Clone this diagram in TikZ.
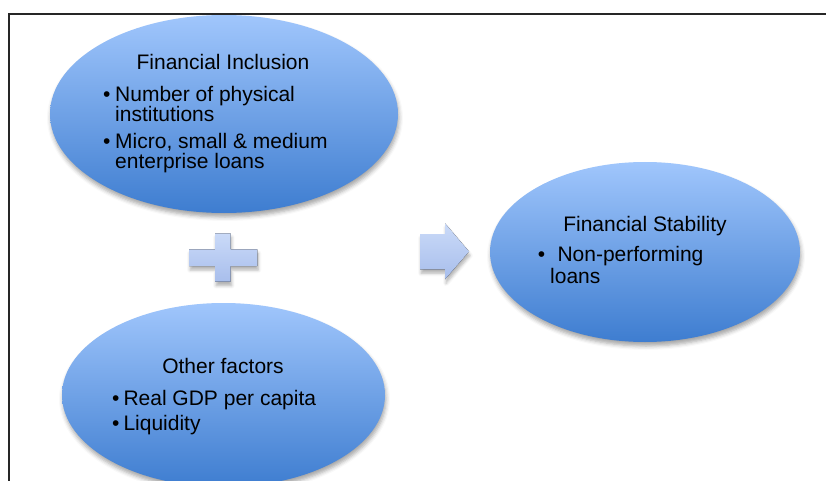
\documentclass[tikz,border=0pt]{standalone}
\usepackage{fontspec}
\setmainfont{Liberation Sans}
\usetikzlibrary{shapes.geometric,shadows.blur}
\definecolor{blobtop}{RGB}{160,198,252}
\definecolor{blobbot}{RGB}{62,125,208}
\definecolor{signtop}{RGB}{202,218,248}
\definecolor{signbot}{RGB}{168,190,236}
\begin{document}
\begin{tikzpicture}[x=1pt,y=-1pt,
  blob/.style={ellipse, inner sep=0pt, draw=none,
    top color=blobtop, bottom color=blobbot,
    blur shadow={shadow xshift=1pt, shadow yshift=-4pt,
      shadow blur radius=4pt, shadow opacity=35}},
  sign/.style={top color=signtop, bottom color=signbot, draw=none,
    blur shadow={shadow xshift=1pt, shadow yshift=-4pt,
      shadow blur radius=3pt, shadow opacity=30}},
  txt/.style={inner sep=0pt, text=black, font=\fontsize{21}{20}\selectfont},
  head/.style={txt, anchor=base},
  item/.style={txt, anchor=base west},
  dot/.style={txt, anchor=base},
  frameline/.style={line width=1.5pt, draw=black!85}
]
\useasboundingbox (0,0) rectangle (826,481);
\clip (0,0) rectangle (826,481);

% the three ellipses
\node[blob, minimum width=348pt, minimum height=198pt] (incl) at (224,114) {};
\node[blob, minimum width=323pt, minimum height=184pt] (other) at (223.5,395) {};
\node[blob, minimum width=310pt, minimum height=180pt] (stab) at (645,252) {};

% frame along the top and left edges
\draw[frameline] (9,481) -- (9,14) -- (826,14);

% plus sign
\fill[sign] (189,249.3) -- (215,249.3) -- (215,233.3) -- (230.7,233.3)
  -- (230.7,249.3) -- (257.3,249.3) -- (257.3,266) -- (230.7,266)
  -- (230.7,281.7) -- (215,281.7) -- (215,266) -- (189,266) -- cycle;

% block arrow
\fill[sign] (420,234) -- (445,234) -- (445,223.3) -- (469,251.5)
  -- (445,279.3) -- (445,269.3) -- (420,269.3) -- cycle;

% Financial Inclusion
\node[head] (inclT) at (223,70) {Financial Inclusion};
\node[dot] (inclB1) at (106.7,101.7) {•};
\node[item] (inclI1a) at (115,101.7) {Number of physical};
\node[item] (inclI1b) at (115,121.7) {institutions};
\node[dot] (inclB2) at (106.7,148.3) {•};
\node[item] (inclI2a) at (115,148.3) {Micro, small \& medium};
\node[item] (inclI2b) at (115,168.3) {enterprise loans};

% Other factors
\node[head] (otherT) at (223,373.3) {Other factors};
\node[dot] (otherB1) at (115.7,405) {•};
\node[item] (otherI1) at (123.3,405) {Real GDP per capita};
\node[dot] (otherB2) at (115.7,430) {•};
\node[item] (otherI2) at (123.3,430) {Liquidity};

% Financial Stability
\node[head] (stabT) at (645,231.7) {Financial Stability};
\node[dot] (stabB1) at (541.5,261.7) {•};
\node[item] (stabI1) at (557.3,261.7) {Non-performing};
\node[item] (stabI2) at (550,283.3) {loans};
\end{tikzpicture}
\end{document}
